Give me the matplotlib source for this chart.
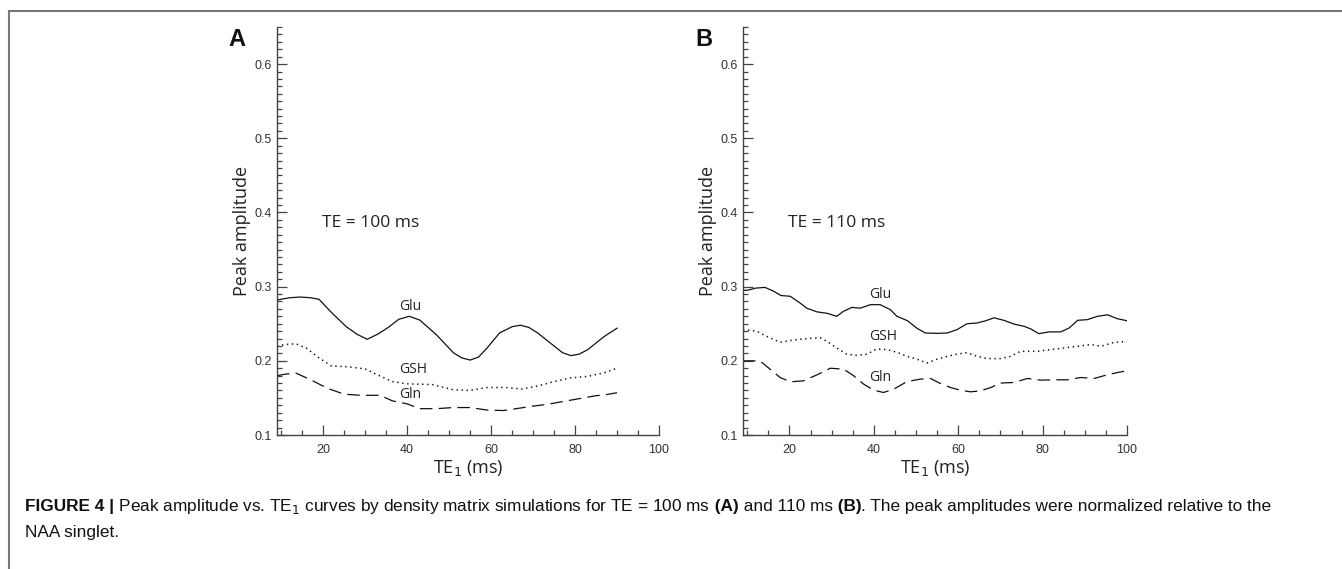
import matplotlib
matplotlib.use("Agg")
import matplotlib.pyplot as plt
from matplotlib.ticker import MultipleLocator
from matplotlib.lines import Line2D

plt.rcParams['lines.scale_dashes'] = False

# ---------------- data ----------------
# Panel A (TE = 100 ms)
a_glu_x = [9, 12, 14.5, 17, 19, 22, 25.5, 28, 30.5, 33, 35.5, 38, 40.5, 43, 47, 51, 53, 55, 57, 59,
           62, 65, 67, 69, 71, 75, 77, 79, 81, 83, 87, 90]
a_glu_y = [.282, .285, .286, .285, .283, .265, .246, .236, .229, .236, .245, .256, .260, .255, .235,
           .211, .204, .201, .205, .217, .2375, .246, .248, .245, .238, .220, .211, .207, .209, .215,
           .233, .244]
a_gsh_x = [9, 11, 13.5, 16, 19, 22, 26, 30, 33, 36.5, 40, 46, 51, 55, 59, 63.5, 67.5, 71, 75, 79,
           83, 87, 90]
a_gsh_y = [.220, .222, .223, .217, .204, .193, .192, .189, .181, .172, .169, .168, .161, .160, .164,
           .164, .162, .166, .172, .177, .179, .184, .190]
a_gln_x = [9, 11, 13.5, 17, 21, 25, 29, 33.5, 36.5, 40, 43, 47, 51, 55, 59, 63, 66, 70, 73, 75,
           79, 81, 85, 87, 90]
a_gln_y = [.180, .182, .1835, .1745, .163, .155, .1535, .1535, .146, .142, .1355, .1355, .137, .137,
           .1336, .133, .1355, .139, .141, .143, .147, .149, .153, .154, .157]

# Panel B (TE = 110 ms)
b_glu_x = [9, 10, 12, 14.2, 16.2, 18, 20.2, 22.5, 24.1, 26.5, 29, 31.2, 32.8, 34.8, 36.8, 39.2, 41.5,
           43.9, 45.5, 48, 50.2, 52.2, 55, 57.4, 59.7, 62.1, 64.5, 66.5, 68.5, 70.8, 73.2, 75.6, 77.2,
           79.1, 81.5, 84.3, 86.3, 88.3, 90.6, 93, 95.4, 97.7, 100]
b_glu_y = [.295, .295, .298, .299, .294, .288, .287, .278, .271, .266, .264, .260, .2667, .272, .271,
           .2757, .2757, .269, .260, .254, .244, .2375, .237, .2375, .242, .250, .251, .254, .258,
           .2546, .2496, .2465, .243, .2366, .239, .239, .2443, .2546, .2555, .260, .262, .2568, .254]
b_gsh_x = [9, 12.2, 14.6, 17.8, 21, 24.1, 27.3, 28.9, 31.2, 33.6, 36, 38.4, 40.7, 43.1, 45.5, 47.9,
           50.2, 52.6, 55, 57.4, 59.7, 62.1, 64.5, 66.9, 70, 72.4, 74.8, 78.7, 81.9, 85.1, 88.3, 91.4,
           93.8, 97, 100]
b_gsh_y = [.242, .240, .233, .225, .228, .230, .231, .2263, .2173, .209, .2073, .209, .216, .2151,
           .2115, .206, .2022, .197, .2022, .206, .209, .211, .206, .203, .203, .206, .2128, .2128,
           .2151, .2173, .2196, .222, .2196, .225, .226]
b_gln_x = [9, 13, 15.4, 17.8, 20.2, 23.3, 26.5, 29.7, 32.8, 35.2, 37.6, 40, 42.3, 44.7, 47.9, 51,
           53.4, 55.8, 58.2, 60.5, 62.9, 65.3, 67.7, 70, 73.2, 76.4, 79.5, 82.7, 85.9, 89, 92.2, 94.6,
           97.8, 100]
b_gln_y = [.200, .200, .1888, .1775, .1717, .173, .181, .190, .1888, .180, .1685, .1604, .1573,
           .1618, .1721, .1753, .1762, .1694, .164, .1604, .1582, .1595, .164, .170, .1708, .1762,
           .174, .1744, .1744, .1775, .1762, .180, .1843, .1866]

panel_letters = ["A", "B"]
te_labels = ["TE = 100 ms", "TE = 110 ms"]
curve_names = ["Glu", "GSH", "Gln"]
a_name_pos = [(38.2, 0.273), (38.2, 0.188), (38.2, 0.154)]
b_name_pos = [(39.0, 0.290), (39.0, 0.233), (39.0, 0.178)]
x_tick_vals = [20, 40, 60, 80, 100]
y_tick_vals = [0.1, 0.2, 0.3, 0.4, 0.5, 0.6]
caption_parts = [
    ("FIGURE 4 |", "bold"),
    (" Peak amplitude vs. TE$_1$ curves by density matrix simulations for TE = 100 ms", "normal"),
    (" (A)", "bold"),
    (" and 110 ms", "normal"),
    (" (B)", "bold"),
    (". The peak amplitudes were normalized relative to the", "normal"),
]
caption_line2 = "NAA singlet."

# ---------------- figure ----------------
W, H = 1342, 569
fig = plt.figure(figsize=(W / 100, H / 100), dpi=100)

label_font = "Open Sans"
tick_font = "Liberation Sans"
ink = "#222222"

def make_axes(left_px, right_px):
    bottom_px, top_px = 435, 27
    ax = fig.add_axes([left_px / W, (H - bottom_px) / H, (right_px - left_px) / W,
                       (bottom_px - top_px) / H])
    ax.set_xlim(9, 100)
    ax.set_ylim(0.1, 0.65)
    for s in ["top", "right"]:
        ax.spines[s].set_visible(False)
    for s in ["left", "bottom"]:
        ax.spines[s].set_color("#444444")
        ax.spines[s].set_linewidth(1.0)
    ax.xaxis.set_minor_locator(MultipleLocator(5))
    ax.yaxis.set_minor_locator(MultipleLocator(0.01))
    ax.tick_params(which="both", direction="in", color="#444444", width=0.9,
                   labelcolor="#333333")
    ax.tick_params(which="major", length=7)
    ax.tick_params(axis="x", which="major", pad=6.5)
    ax.tick_params(axis="y", which="major", pad=3.5)
    ax.tick_params(which="minor", length=3.5)
    ax.set_xticks(x_tick_vals)
    ax.set_xticklabels([str(v) for v in x_tick_vals], family=tick_font, fontsize=9)
    ax.set_yticks(y_tick_vals)
    ax.set_yticklabels([f"{v:.1f}" for v in y_tick_vals], family=tick_font, fontsize=9)
    ax.set_ylabel("Peak amplitude", family=label_font, fontsize=13, color=ink, labelpad=3)
    ax.set_xlabel("TE$_1$ (ms)", family=label_font, fontsize=13, color=ink, labelpad=1.5)
    ax.patch.set_alpha(0)
    return ax

axA = make_axes(277, 659)
axB = make_axes(743, 1127)

solid = dict(color="#111111", lw=0.9, linestyle="-")
dotted = dict(color="#111111", lw=1.1, linestyle=(0, (1.0, 2.6)))
dashed = dict(color="#111111", lw=0.9, linestyle=(0, (9, 4.5)))

axA.plot(a_glu_x, a_glu_y, **solid)
axA.plot(a_gsh_x, a_gsh_y, **dotted)
axA.plot(a_gln_x, a_gln_y, **dashed)
axB.plot(b_glu_x, b_glu_y, **solid)
axB.plot(b_gsh_x, b_gsh_y, **dotted)
axB.plot(b_gln_x, b_gln_y, **dashed)

for ax, pos in ((axA, a_name_pos), (axB, b_name_pos)):
    for name, (x, y) in zip(curve_names, pos):
        ax.text(x, y, name, family=label_font, fontsize=10, color=ink, ha="left", va="center")

for ax, lab in ((axA, te_labels[0]), (axB, te_labels[1])):
    ax.text(19.7, 0.386, lab, family=label_font, fontsize=12.6, color=ink, ha="left", va="center")

fig.text(228 / W, 1 - 40 / H, panel_letters[0], family="Liberation Sans", fontweight="bold",
         fontsize=17, ha="left", va="center", color="#111111")
fig.text(695 / W, 1 - 40 / H, panel_letters[1], family="Liberation Sans", fontweight="bold",
         fontsize=17, ha="left", va="center", color="#111111")

# frame
fig.add_artist(Line2D([9 / W, 1], [1 - 10.5 / H, 1 - 10.5 / H], color="#777777", lw=1.5))
fig.add_artist(Line2D([9 / W, 9 / W], [0, 1 - 10.5 / H], color="#777777", lw=1.5))

# caption
cap_fs = 12.4
cap_y1 = 1 - 511 / H
cap_y2 = 1 - 537 / H
x_px = 25
for txt, wt in caption_parts:
    t = fig.text(x_px / W, cap_y1, txt, family="Liberation Sans", fontweight=wt,
                 fontsize=cap_fs, color="#111111", va="baseline", ha="left")
    fig.canvas.draw()
    x_px = t.get_window_extent().x1
fig.text(25 / W, cap_y2, caption_line2, family="Liberation Sans", fontsize=cap_fs,
         color="#111111", va="baseline", ha="left")

fig.savefig("out.png", dpi=100)
